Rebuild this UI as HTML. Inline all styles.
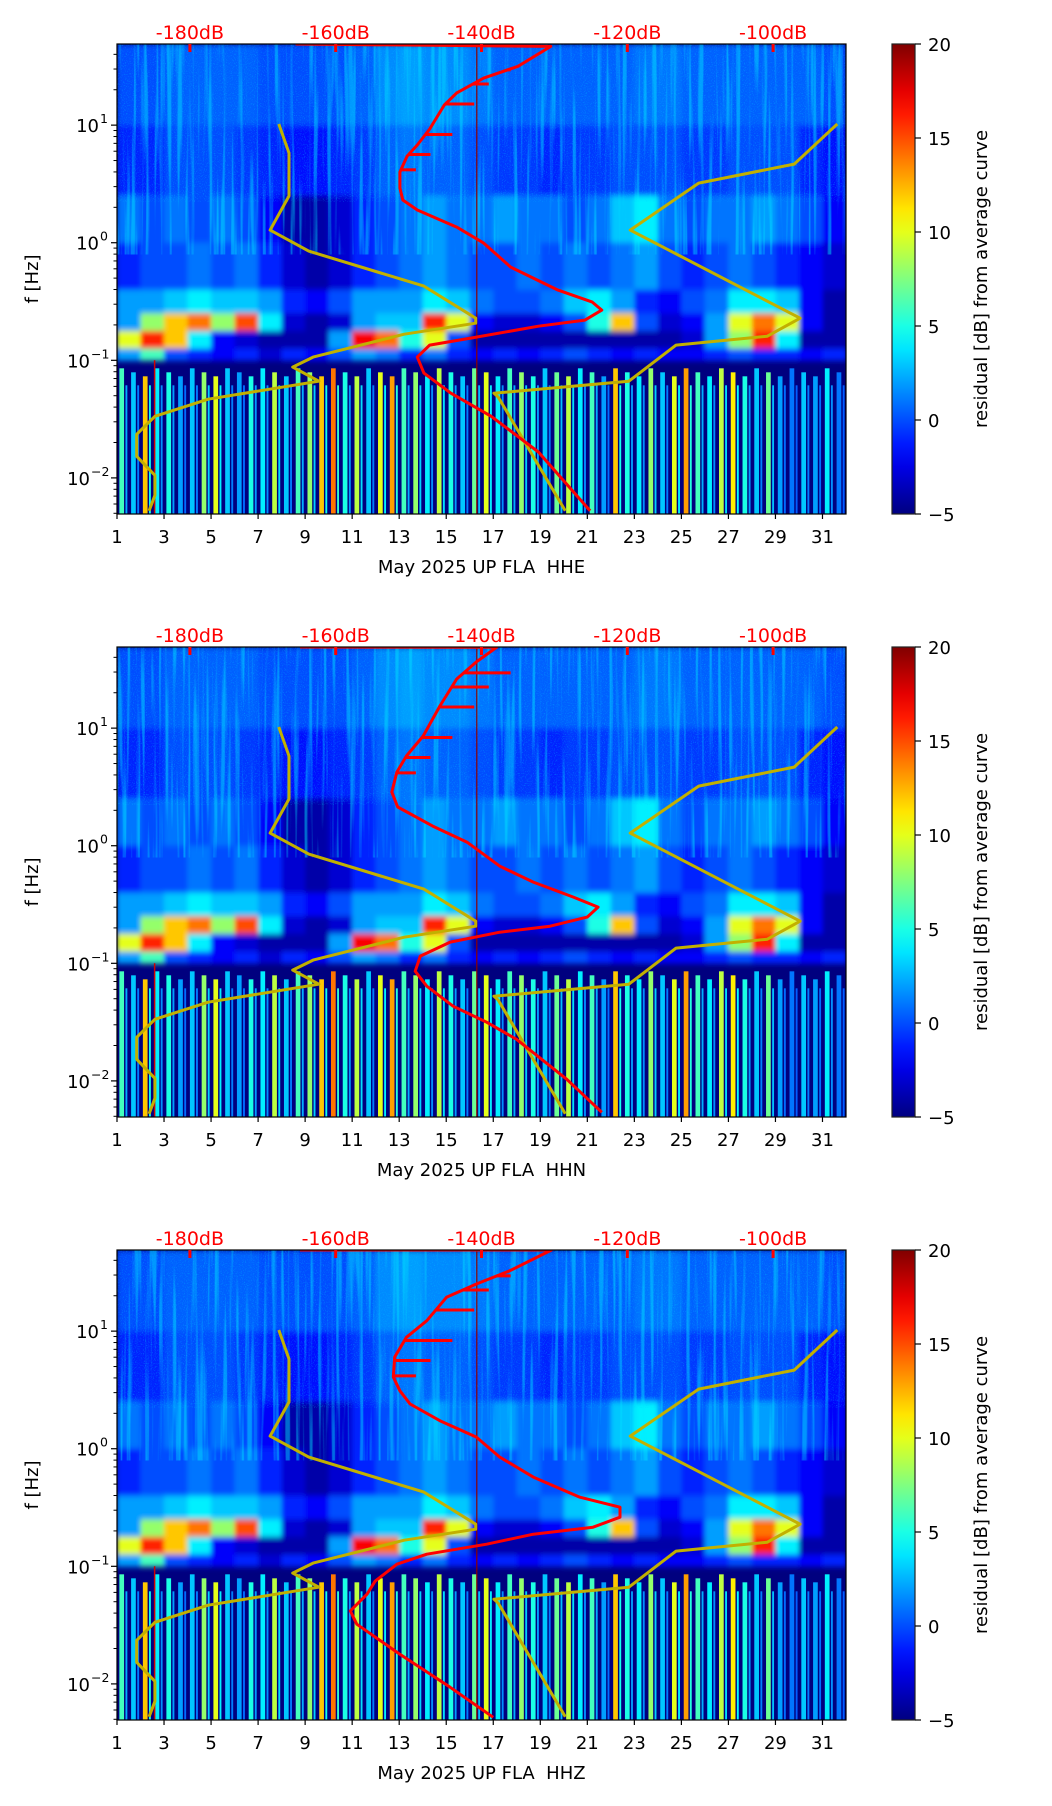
<!DOCTYPE html>
<html><head><meta charset="utf-8">
<style>
html,body{margin:0;padding:0;background:#fff;}
svg{display:block;font-family:"DejaVu Sans","Liberation Sans",sans-serif;}
</style></head>
<body>
<svg id="fig" width="1052" height="1806" viewBox="0 0 1052 1806" xmlns="http://www.w3.org/2000/svg">
<defs>
<linearGradient id="jetGrad" x1="0" y1="1" x2="0" y2="0"></linearGradient>
<filter id="streakF" x="0" y="0" width="1" height="1">
<feTurbulence type="fractalNoise" baseFrequency="0.22 0.006" numOctaves="2" seed="4"/>
<feColorMatrix type="matrix" values="0 0 0 0 0.0  0 0 0 0 0.85  0 0 0 0 1  5 0 0 0 -2.55"/>
</filter>
<filter id="speckF" x="0" y="0" width="1" height="1">
<feTurbulence type="fractalNoise" baseFrequency="0.9 0.9" numOctaves="1" seed="7"/>
<feColorMatrix type="matrix" values="0 0 0 0 0.0  0 0 0 0 0.6  0 0 0 0 1  4 0 0 0 -2.1"/>
</filter>
<filter id="blurF" x="-0.02" y="-0.02" width="1.04" height="1.04">
<feGaussianBlur stdDeviation="2.5 3"/>
</filter>
</defs>
</svg>
<script>
// ---- axis ranges ----
const dayMin = 1, dayMax = 32;
const dbMin = -190, dbMax = -90;
const logTop = 1.69, logBot = -2.307;
const xTickDays = [1,3,5,7,9,11,13,15,17,19,21,23,25,27,29,31];
const dbTicks = [-180,-160,-140,-120,-100];
const dbTickLabels = ["-180dB","-160dB","-140dB","-120dB","-100dB"];
const yDecades = [1,0,-1,-2];
const cbTicks = [-5,0,5,10,15,20];
const channels = ["HHE","HHN","HHZ"];

// ---- spectrogram residual data (dB), per day ----
const bandEdgesLog = [1.69,1.0,0.4,0.0,-0.4,-0.6,-0.75,-0.9,-1.0];
const bandR0 = [0,0,0.5,0.5,0.5,0.5,0,0,0,0,0.5,1.5,2,1.5,1.5,1,0.5,0.5,0.5,0.5,0.5,0.5,1,1,0.5,0.5,0.5,0.5,0.5,0.5,0];
const bandR1 = [-1,-1,0,0,0,-0.5,-1,-1.5,-1.5,-1,-0.5,0.5,1,0.5,0.5,0,-0.5,-0.5,-1,-0.5,-0.5,0,0,0,-0.5,-0.5,0,0,0,-1,-1.5];
const bandR2 = [1,0,1,0,1,0,-2,-4,-4,-3,-1,0,1,2,1,1,2,1,1,0,1,3,4,1,0,1,1,2,1,0,-2];
const bandR3 = [-1,0,0,1,0,1,-1,-3,-4,-3,-1,0,1,2,1,0,0,1,0,1,0,1,2,0,-1,0,1,0,-1,-2,-3];
const bandR4 = [2,2,3,4,3,3,2,-1,-2,0,2,2,2,4,3,1,0,0,1,3,4,2,-1,-2,0,1,4,4,3,-2,-4];
const bandR5 = [2,8,12,14,8,15,4,-3,-4,-3,2,3,3,16,10,-2,-3,-3,-2,0,5,12,0,-3,-2,2,10,14,10,-2,-4];
const bandR6 = [10,16,12,4,-2,-3,-4,-4,-4,2,17,14,5,10,0,-4,-4,-4,-4,-4,-4,-4,-4,-4,-3,2,8,16,4,-4,-4];
const bandR7 = [2,6,0,-1,-2,-1,-3,-1,-2,0,2,1,-1,1,-1,-2,-1,-2,-1,0,-1,-2,-1,-2,-2,-1,0,-1,-1,-2,-1];
// low-frequency band (0.005-0.1 Hz), per half day
const lowBand = [6,3,12,4,5,2,3,8,10,3,2,5,4,9,3,6,8,12,14,5,9,3,10,13,6,8,4,9,5,3,7,10,4,6,8,5,3,7,9,4,6,2,12,5,4,8,3,10,13,6,4,9,11,5,3,7,2,1,3,2,4,1];

// ---- curves: dB vs log10(f) ----
const red1Db  = [-165.5,-130.5,-135,-139.7,-143.4,-145.1,-146.1,-147.1,-148.8,-150.2,-151.2,-151.2,-150.8,-148.8,-143.4,-139.7,-136.0,-129.5,-124.8,-123.5,-125.8,-132.2,-141.4,-147.1,-148.8,-147.9,-144.2,-138.7,-132.2,-125.1];
const red1Log = [1.69,1.67,1.50,1.40,1.274,1.171,1.069,0.967,0.831,0.737,0.601,0.465,0.363,0.278,0.133,-0.003,-0.207,-0.403,-0.505,-0.573,-0.658,-0.71,-0.81,-0.871,-0.973,-1.109,-1.28,-1.475,-1.78,-2.28];
const red2Db  = [-164.9,-137.9,-140.7,-143.4,-145.7,-148.0,-150.3,-151.6,-152.3,-151.5,-146.7,-142.0,-137.5,-132.9,-127.4,-124.0,-125.5,-130.6,-137.5,-144.3,-148.4,-149.1,-147.5,-143.9,-139.3,-135.2,-128.3,-123.5];
const red2Log = [1.69,1.688,1.563,1.418,1.188,0.933,0.763,0.627,0.456,0.329,0.167,0.031,-0.173,-0.309,-0.437,-0.522,-0.607,-0.684,-0.735,-0.820,-0.939,-1.067,-1.195,-1.365,-1.501,-1.646,-1.986,-2.267];
const red3Db  = [-164.9,-130.4,-136.1,-140.7,-144.8,-147.5,-150.3,-151.9,-152.1,-151.2,-149.8,-145.7,-140.7,-137.5,-132.9,-126.5,-121.0,-121.0,-124.7,-132.9,-139.3,-147.5,-151.6,-154.6,-155.7,-158.0,-157.1,-151.2,-144.3,-138.4];
const red3Log = [1.69,1.690,1.514,1.401,1.288,1.089,0.948,0.780,0.610,0.493,0.380,0.238,0.099,-0.071,-0.241,-0.412,-0.497,-0.582,-0.667,-0.727,-0.812,-0.897,-0.982,-1.127,-1.237,-1.379,-1.492,-1.748,-2.029,-2.284];
// spikes on the red curve at high frequency (dB extent, log f)
const spikeLog = [1.47,1.35,1.18,0.92,0.75,0.62];
const spikeDb  = [-136,-139,-141,-144,-147,-149];
// Peterson noise models
const nlnmDb  = [-167.8,-166.4,-166.4,-169.0,-163.7,-147.9,-140.8,-140.8,-150.6,-163.1,-165.9,-162.3,-177.5,-184.8,-187.3,-187.3,-184.8,-184.8,-185.6];
const nlnmLog = [1.01,0.763,0.397,0.107,-0.071,-0.369,-0.642,-0.684,-0.778,-0.973,-1.058,-1.178,-1.331,-1.476,-1.629,-1.816,-1.978,-2.148,-2.28];
const nhnmDb  = [-91.2,-97.1,-110.2,-119.6,-96.3,-100.8,-113.3,-119.8,-138.3,-137.7,-128.5];
const nhnmLog = [1.01,0.669,0.507,0.107,-0.642,-0.795,-0.871,-1.178,-1.28,-1.314,-2.28];

const redDbs = [red1Db, red2Db, red3Db];
const redLogs = [red1Log, red2Log, red3Log];

// ---- layout ----
const AX_L = 117, AX_R = 846, AX_H = 470;
const TOPS = [44, 647, 1250];
const CB_L = 892, CB_R = 915;
const NS = "http://www.w3.org/2000/svg";
const svg = document.getElementById('fig');

function el(tag, attrs, parent){
  const e = document.createElementNS(NS, tag);
  for (const k in attrs) e.setAttribute(k, attrs[k]);
  (parent||svg).appendChild(e);
  return e;
}
function jet(v){
  let t = (v+5)/25; t = Math.max(0, Math.min(1, t));
  const c = x => Math.round(255*Math.max(0, Math.min(1, x)));
  return `rgb(${c(1.5-Math.abs(4*t-3))},${c(1.5-Math.abs(4*t-2))},${c(1.5-Math.abs(4*t-1))})`;
}
const xDay = d => AX_L + (d-dayMin)/(dayMax-dayMin)*(AX_R-AX_L);
const xDb = db => AX_L + (db-dbMin)/(dbMax-dbMin)*(AX_R-AX_L);
const yLog = (top, L) => top + (logTop-L)/(logTop-logBot)*AX_H;

// colorbar gradient
const grad = document.getElementById('jetGrad');
for (let i=0;i<=20;i++){
  const v = -5 + 25*i/20;
  el('stop', {offset: (i/20).toFixed(3), 'stop-color': jet(v)}, grad);
}

const bands = [bandR0,bandR1,bandR2,bandR3,bandR4,bandR5,bandR6,bandR7];

channels.forEach((ch, pi) => {
  const top = TOPS[pi];
  const g = el('g', {});
  
  
  const clipId = 'clip'+pi;
  const cp = el('clipPath', {id: clipId}, g);
  el('rect', {x:AX_L, y:top, width:AX_R-AX_L, height:AX_H}, cp);
  const hm = el('g', {'clip-path': `url(#${clipId})`}, g);
  
  
  el('rect', {x:AX_L, y:top, width:AX_R-AX_L, height:AX_H, fill:'#00007f'}, hm);
  const bg = el('g', {filter:'url(#blurF)'}, hm);
  bands.forEach((arr, bi) => {
    const y0 = yLog(top, bandEdgesLog[bi]), y1 = yLog(top, bandEdgesLog[bi+1]);
    arr.forEach((v, di) => {
      const r = el('rect', {x: xDay(1+di), y: y0, width: xDay(2+di)-xDay(1+di)+0.5, height: y1-y0+0.5, fill: jet(v)}, bg);
      
      
    });
  });
  // low-frequency streak band
  const yl0 = yLog(top, -1.0), yl1 = yLog(top, logBot);
  lowBand.forEach((v, hi) => {
    const d0 = 1 + hi*0.5;
    const w = xDay(d0+0.5)-xDay(d0);
    const r = el('rect', {x: xDay(d0)+w*0.2, y: yl0+8+(hi%3)*4, width: w*0.4, height: yl1-yl0, fill: jet(v)}, hm);
    
    
    const r2 = el('rect', {x: xDay(d0)+w*0.72, y: yl0+25, width: w*0.16, height: yl1-yl0, fill: jet(v*0.4)}, hm);
    
    
  });
  el('rect', {x:AX_L, y:top, width:AX_R-AX_L, height: yLog(top,-0.1)-top, filter:'url(#streakF)', opacity:0.45}, hm);
  el('rect', {x:AX_L, y:top, width:AX_R-AX_L, height: yLog(top,0.35)-top, filter:'url(#speckF)', opacity:0.35}, hm);
  el('line', {x1:xDay(16.3), x2:xDay(16.3), y1:top, y2:top+AX_H, stroke:'#8b0000', 'stroke-width':1.2}, hm);
  el('line', {x1:xDay(2.6), x2:xDay(2.6), y1:yLog(top,-1.0), y2:top+AX_H, stroke:'#d00000', 'stroke-width':1.5}, hm);

  [[nlnmDb,nlnmLog,'nlnm-curve'],[nhnmDb,nhnmLog,'nhnm-curve']].forEach(([dbs,logs,name]) => {
    const pts = dbs.map((d,i)=> xDb(d).toFixed(1)+','+yLog(top,logs[i]).toFixed(1)).join(' ');
    const pl = el('polyline', {points:pts, fill:'none', stroke:'#c2b000', 'stroke-width':3, 'stroke-linejoin':'round'}, hm);
    
    
  });
  const rd = redDbs[pi], rl = redLogs[pi];
  const rpts = rd.map((d,i)=> xDb(d).toFixed(1)+','+yLog(top,rl[i]).toFixed(1)).join(' ');
  const rp = el('polyline', {points:rpts, fill:'none', stroke:'#ff0000', 'stroke-width':3, 'stroke-linejoin':'round'}, hm);
  
  
  spikeLog.forEach((L,i) => {
    const y = yLog(top, L);
    let xc = xDb(rd[1]);
    for (let k=1;k<rl.length;k++){ if (rl[k] <= L){ const f=(L-rl[k])/(rl[k-1]-rl[k]); xc = xDb(rd[k]+(rd[k-1]-rd[k])*f); break; } }
    const s = el('line', {x1:xc, x2:Math.max(xc, xDb(spikeDb[i])), y1:y, y2:y, stroke:'#ff0000', 'stroke-width':3}, hm);
    
    
  });

  const fr = el('rect', {x:AX_L, y:top, width:AX_R-AX_L, height:AX_H, fill:'none', stroke:'#000', 'stroke-width':1.2}, g);
  
  

  xTickDays.forEach(d => {
    const x = xDay(d);
    el('line', {x1:x, x2:x, y1:top+AX_H, y2:top+AX_H+5, stroke:'#000', 'stroke-width':1.2}, g);
    const t = el('text', {x:x, y:top+AX_H+29, 'text-anchor':'middle', 'font-size':18, fill:'#000'}, g);
    t.textContent = d;
    
    
  });
  const xl = el('text', {x:(AX_L+AX_R)/2, y:top+AX_H+59, 'text-anchor':'middle', 'font-size':18, fill:'#000'}, g);
  xl.textContent = 'May 2025 UP FLA \u00a0' + ch;
  
  

  dbTicks.forEach((db,i) => {
    const x = xDb(db);
    el('rect', {x:x-1.5, y:top, width:3, height:8, fill:'#ff0000'}, g);
    const t = el('text', {x:x, y:top-5, 'text-anchor':'middle', 'font-size':19, fill:'#ff0000'}, g);
    t.textContent = dbTickLabels[i];
    
    
  });

  yDecades.forEach(k => {
    const y = yLog(top, k);
    el('line', {x1:AX_L-6, x2:AX_L, y1:y, y2:y, stroke:'#000', 'stroke-width':1.2}, g);
    const xr = k < 0 ? AX_L-27 : AX_L-18;
    const t = el('text', {x:xr, y:y+7, 'text-anchor':'end', 'font-size':18, fill:'#000'}, g);
    t.textContent = '10';
    
    
    const s = el('text', {x:xr+1, y:y-2, 'text-anchor':'start', 'font-size':12.5, fill:'#000'}, g);
    s.textContent = k < 0 ? '\u2212' + (-k) : String(k);
    
    
  });
  for (let k=-3;k<=1;k++){
    for (let m=2;m<=9;m++){
      const L = k + Math.log10(m);
      if (L < logBot || L > logTop) continue;
      const y = yLog(top, L);
      el('line', {x1:AX_L-3.5, x2:AX_L, y1:y, y2:y, stroke:'#000', 'stroke-width':1}, g);
    }
  }
  const yl = el('text', {x:0, y:0, 'text-anchor':'middle', 'font-size':18, fill:'#000', transform:`translate(38,${top+AX_H/2}) rotate(-90)`}, g);
  yl.textContent = 'f [Hz]';
  
  

  const cb = el('rect', {x:CB_L, y:top, width:CB_R-CB_L, height:AX_H, fill:'url(#jetGrad)', stroke:'#222', 'stroke-width':1.2}, g);
  
  
  cbTicks.forEach(v => {
    const y = top + AX_H - (v+5)/25*AX_H;
    el('line', {x1:CB_R, x2:CB_R+6, y1:y, y2:y, stroke:'#000', 'stroke-width':1.2}, g);
    const t = el('text', {x:CB_R+13, y:y+7, 'font-size':18, fill:'#000'}, g);
    t.textContent = v < 0 ? '\u2212' + (-v) : String(v);
    
    
  });
  const cl = el('text', {x:0, y:0, 'text-anchor':'middle', 'font-size':18, fill:'#000', transform:`translate(987,${top+AX_H/2}) rotate(-90)`}, g);
  cl.textContent = 'residual [dB] from average curve';
  
  
});
</script>
</body></html>
